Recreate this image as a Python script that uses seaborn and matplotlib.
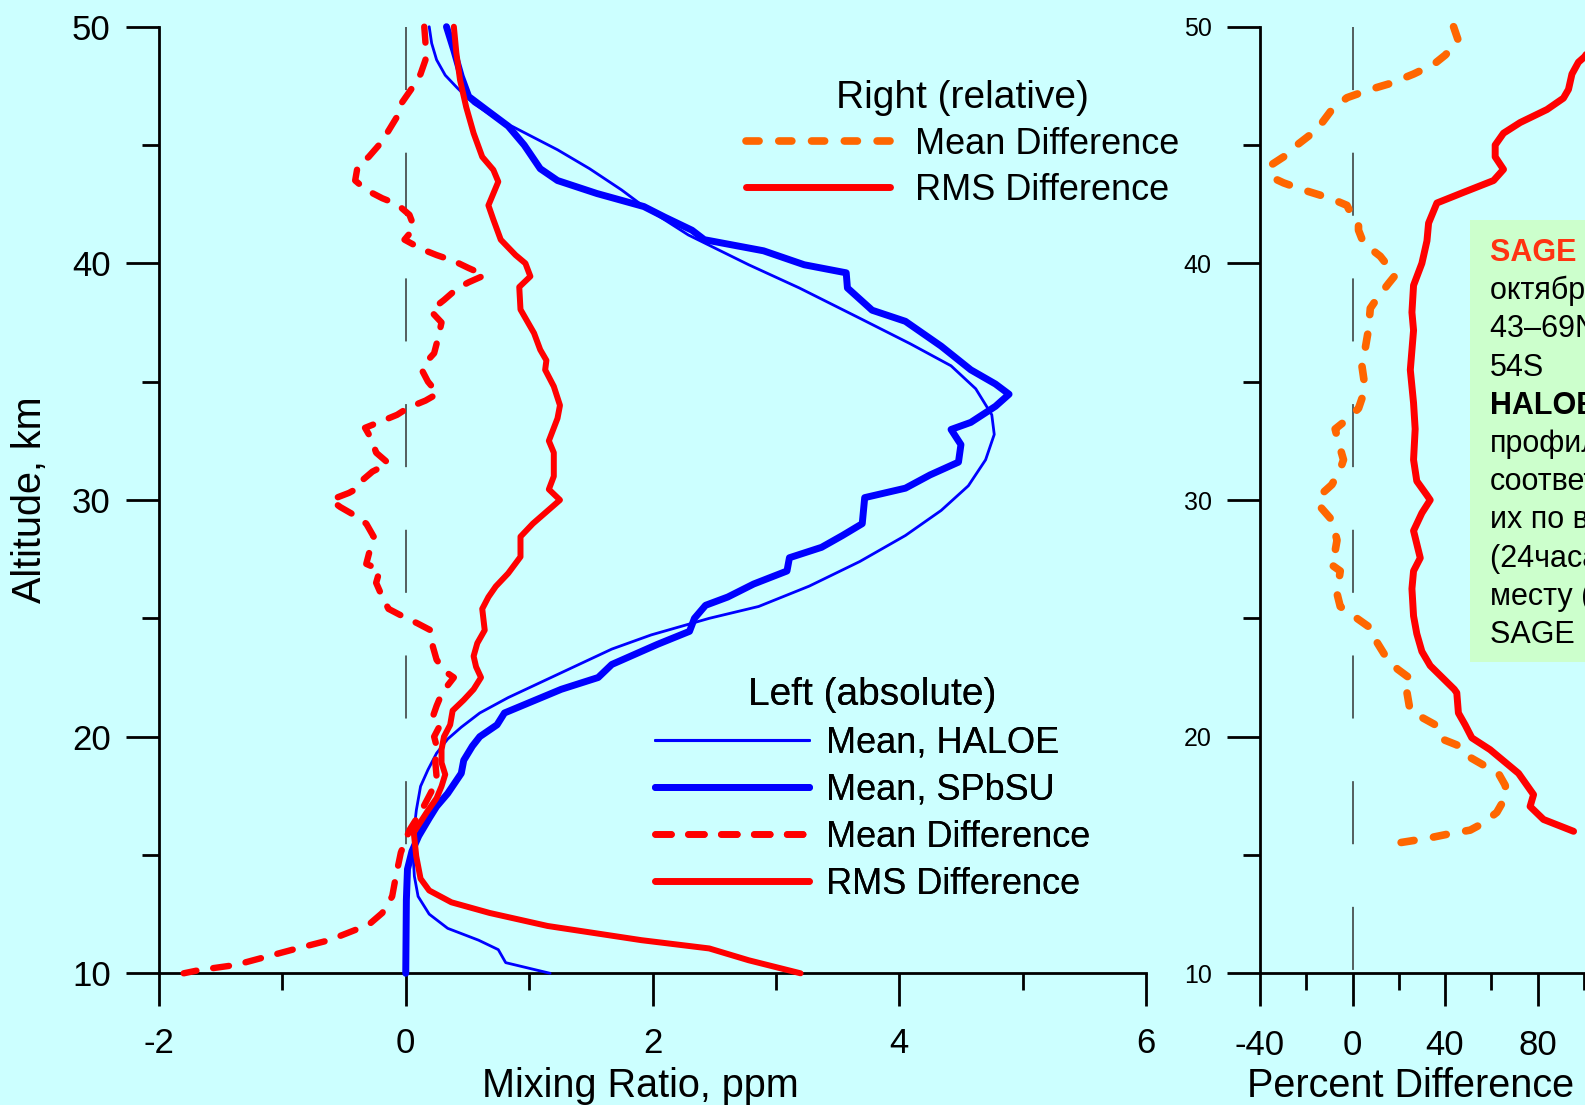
import matplotlib
matplotlib.use("Agg")
import matplotlib.pyplot as plt
import seaborn as sns
from matplotlib.lines import Line2D
from matplotlib.patches import Rectangle
from matplotlib.ticker import MultipleLocator, FixedLocator

# ---------------- data ----------------
# Left panel: absolute values, ppm
haloe_x = [0.19, 0.21, 0.25, 0.32, 0.42, 0.55, 0.71, 0.97, 1.23, 1.49, 1.75, 1.93, 2.29, 2.78,
           3.19, 3.68, 4.09, 4.42, 4.62, 4.75, 4.77, 4.70, 4.56, 4.34, 4.05, 3.68, 3.27, 2.86,
           2.46, 1.99, 1.67, 1.26, 0.83, 0.60, 0.45, 0.34, 0.25, 0.18, 0.12, 0.086, 0.065, 0.06,
           0.07, 0.10, 0.19, 0.34, 0.59, 0.75, 0.81, 1.17]
haloe_alt = [50.0, 49.3, 48.6, 47.95, 47.4, 46.75, 46.2, 45.5, 44.8, 44.0, 43.1, 42.4, 41.2, 39.94,
             38.96, 37.68, 36.6, 35.67, 34.7, 33.6, 32.77, 31.7, 30.6, 29.56, 28.5, 27.4, 26.36, 25.5,
             25.0, 24.3, 23.7, 22.7, 21.65, 21.0, 20.4, 19.9, 19.3, 18.6, 17.9, 16.9, 15.95, 14.95,
             14.1, 13.25, 12.5, 11.9, 11.4, 11.0, 10.45, 10.0]

spbsu_x = [0.33, 0.39, 0.45, 0.51, 0.65, 0.83, 0.96, 1.09, 1.23, 1.55, 1.93, 2.10, 2.32, 2.42,
           2.90, 3.23, 3.57, 3.58, 3.78, 4.05, 4.34, 4.58, 4.78, 4.89, 4.78, 4.58, 4.42, 4.50,
           4.48, 4.25, 4.05, 3.72, 3.70, 3.54, 3.37, 3.11, 3.09, 2.82, 2.61, 2.43, 2.34, 2.30,
           2.04, 1.67, 1.56, 1.26, 0.80, 0.74, 0.60, 0.54, 0.47, 0.45, 0.34, 0.25, 0.19, 0.105,
           0.05, 0.014, 0.005, 0.0]
spbsu_alt = [50.0, 49.0, 47.9, 47.05, 46.5, 45.8, 45.0, 44.0, 43.5, 42.95, 42.4, 41.95, 41.4, 41.0,
             40.53, 39.94, 39.6, 38.96, 38.02, 37.55, 36.5, 35.5, 34.9, 34.47, 33.96, 33.28, 32.98, 32.34,
             31.6, 31.06, 30.5, 30.1, 29.0, 28.5, 28.0, 27.56, 27.0, 26.45, 25.9, 25.55, 25.0, 24.45,
             23.9, 23.05, 22.5, 22.0, 21.0, 20.5, 20.0, 19.6, 19.0, 18.45, 17.6, 17.05, 16.55, 15.8,
             15.15, 14.4, 13.1, 10.0]

mdiff_x = [0.15, 0.16, 0.16, 0.12, 0.05, -0.03, -0.07, -0.14, -0.20, -0.30, -0.39, -0.41, -0.32,
           -0.19, -0.07, 0.03, 0.07, -0.01, 0.13, 0.25, 0.39, 0.51, 0.64, 0.51, 0.42, 0.31, 0.20,
           0.29, 0.26, 0.23, 0.16, 0.13, 0.18, 0.26, 0.16, 0.02, -0.07, -0.21, -0.33, -0.28, -0.24,
           -0.14, -0.27, -0.36, -0.39, -0.46, -0.61, -0.53, -0.43, -0.32, -0.26, -0.29, -0.32, -0.21,
           -0.24, -0.19, -0.14, -0.03, 0.09, 0.20, 0.22, 0.25, 0.32, 0.39, 0.33, 0.29, 0.25, 0.22,
           0.28, 0.23, 0.25, 0.24, 0.25, 0.21, 0.12, 0.03, -0.04, -0.08, -0.11, -0.19, -0.29, -0.40,
           -0.62, -0.88, -1.13, -1.38, -1.67, -1.80]
mdiff_alt = [50.0, 49.3, 48.6, 48.0, 47.4, 46.8, 46.2, 45.6, 45.1, 44.5, 44.1, 43.5, 43.1,
             42.75, 42.5, 42.05, 41.5, 41.0, 40.6, 40.35, 40.1, 39.8, 39.5, 39.2, 38.95, 38.45, 38.0,
             37.5, 36.8, 36.2, 35.8, 35.5, 35.0, 34.5, 34.2, 33.9, 33.6, 33.3, 33.05, 32.6, 32.0,
             31.55, 31.2, 30.8, 30.5, 30.3, 30.0, 29.7, 29.4, 29.0, 28.45, 27.9, 27.3, 27.05,
             26.5, 25.9, 25.4, 25.1, 24.8, 24.5, 23.8, 23.25, 22.75, 22.5, 22.1, 21.8, 21.3, 20.85,
             20.5, 20.0, 19.6, 18.9, 18.3, 17.7, 16.8, 16.05, 15.1, 14.1, 13.25, 12.55, 12.1, 11.85,
             11.4, 11.05, 10.7, 10.35, 10.14, 10.0]

rms_x = [0.39, 0.41, 0.44, 0.49, 0.55, 0.62, 0.71, 0.75, 0.71, 0.67, 0.71, 0.77, 0.89, 0.97,
         1.01, 0.92, 0.93, 1.04, 1.09, 1.14, 1.13, 1.20, 1.25, 1.23, 1.16, 1.20, 1.20, 1.16, 1.25,
         1.14, 1.03, 0.93, 0.93, 0.83, 0.73, 0.67, 0.62, 0.64, 0.58, 0.55, 0.57, 0.61, 0.55, 0.47,
         0.38, 0.36, 0.31, 0.29, 0.29, 0.32, 0.29, 0.25, 0.17, 0.065, 0.085, 0.12, 0.19, 0.37,
         0.68, 1.15, 1.91, 2.46, 2.78, 3.20]
rms_alt = [50.0, 48.9, 47.75, 46.6, 45.5, 44.5, 43.95, 43.45, 42.95, 42.45, 41.85, 41.0, 40.35, 40.0,
           39.45, 39.0, 38.05, 37.05, 36.35, 35.9, 35.5, 34.8, 34.0, 33.45, 32.5, 32.0, 31.0, 30.45, 30.0,
           29.5, 29.0, 28.45, 27.6, 26.9, 26.35, 25.9, 25.4, 24.5, 23.95, 23.4, 22.95, 22.5, 22.0, 21.55,
           21.1, 20.5, 20.0, 19.45, 18.9, 18.4, 17.9, 17.4, 16.8, 15.95, 14.95, 14.0, 13.5, 13.0,
           12.55, 12.0, 11.4, 11.05, 10.55, 10.0]

# Right panel: relative values, percent
rel_mdiff_x = [43.7, 45.8, 40.1, 35.0, 26.4, 16.3, 7.7, -2.4, -8.9, -15.4, -24.0, -29.8, -35.3,
               -34.2, -29.8, -21.2, -9.6, -2.4, -1.0, 2.6, 2.6, 4.8, 12.0, 18.5, 15.6, 10.5, 7.7,
               6.9, 5.5, 4.1, 5.5, 2.6, -2.4, -7.5, -6.1, -3.9, -5.3, -8.9, -14.0, -14.7, -8.9,
               -6.7, -8.2, -9.6, -5.3, -6.7, -5.3, 1.9, 8.4, 10.5, 14.9, 19.5, 25.7, 23.5, 24.9,
               29.3, 35.8, 38.7, 45.1, 49.5, 56.6, 63.1, 66.0, 66.8, 62.4, 56.6, 50.9, 42.2, 32.2, 19.2]
rel_mdiff_alt = [50.0, 49.4, 48.8, 48.4, 48.0, 47.6, 47.35, 47.0, 46.5, 45.65, 45.0, 44.5, 44.15,
                 43.6, 43.4, 43.1, 42.75, 42.45, 42.17, 41.7, 41.4, 40.85, 40.3, 39.5, 39.15, 38.5, 38.1,
                 37.2, 36.4, 35.65, 34.7, 33.87, 33.4, 33.0, 32.45, 31.7, 31.3, 30.65, 30.2, 29.8, 29.15,
                 28.3, 27.45, 27.3, 27.0, 26.05, 25.5, 25.0, 24.55, 24.0, 23.3, 22.85, 22.4, 21.9, 21.1,
                 20.85, 20.5, 19.9, 19.65, 19.2, 18.8, 18.45, 17.95, 17.55, 16.8, 16.35, 16.05, 15.9, 15.7, 15.5]

rel_rms_x = [106.0, 104.0, 100.6, 97.7, 94.9, 93.4, 91.2, 84.1, 72.5, 65.3, 61.7, 61.7, 65.3, 61.0,
             48.0, 36.5, 32.9, 32.2, 30.0, 26.4, 25.7, 26.4, 25.0, 26.4, 27.1, 26.4, 27.8, 32.2,
             33.6, 30.0, 26.4, 29.3, 26.4, 25.7, 26.4, 27.8, 30.0, 33.6, 44.0, 45.1, 45.8, 48.7,
             51.6, 59.5, 71.8, 78.3, 76.8, 82.6, 95.6]
rel_rms_alt = [50.0, 49.4, 48.75, 48.5, 48.0, 47.35, 46.98, 46.5, 45.95, 45.5, 45.0, 44.5, 43.97, 43.5,
               43.0, 42.55, 41.7, 40.95, 40.0, 39.07, 37.93, 37.17, 35.5, 34.1, 33.0, 31.7, 30.8, 30.2,
               30.0, 29.45, 28.7, 27.55, 27.0, 26.25, 25.1, 24.35, 23.6, 23.0, 22.0, 21.85, 21.0, 20.5,
               19.95, 19.45, 18.45, 17.55, 17.05, 16.5, 16.0]

left_xticks = [-2, 0, 2, 4, 6]
right_xticks = [-40, 0, 40, 80]
right_xminor = [-20, 20, 60, 100]
alt_ticks = [10, 20, 30, 40, 50]

legend_right_title = "Right (relative)"
legend_right_labels = ["Mean Difference", "RMS Difference"]
legend_left_title = "Left (absolute)"
legend_left_labels = ["Mean, HALOE", "Mean, SPbSU", "Mean Difference", "RMS Difference"]

note_lines = ["SAGE II", "октябрь 2003 г.", "43–69N и 40–", "54S", "HALOE:", "профили,",
              "соответствующие", "их по времени", "(24часа) и", "месту (500 км)", "SAGE II"]
note_bold = [True, False, False, False, True, False, False, False, False, False, False]
note_colors = ["#FF3311", "black", "black", "black", "black", "black", "black", "black",
               "black", "black", "black"]

# ---------------- style ----------------
sns.set_theme(style="ticks")
plt.rcParams["font.family"] = ["Liberation Sans", "DejaVu Sans"]
plt.rcParams["axes.unicode_minus"] = False
plt.rcParams["lines.scale_dashes"] = False
for key in ("text.color", "axes.labelcolor", "xtick.color", "ytick.color",
            "xtick.labelcolor", "ytick.labelcolor", "axes.edgecolor"):
    plt.rcParams[key] = "black"
plt.rcParams["legend.labelcolor"] = "black"

W, H = 1585, 1105
BG = "#CCFFFF"
BLUE = "#0000FF"
RED = "#FF0000"
ORANGE = "#FF6600"

fig = plt.figure(figsize=(W / 100, H / 100), dpi=100)
fig.patch.set_facecolor(BG)


def fxp(p):
    return p / W


def fyp(p):
    return 1 - p / H


y_top, y_bot = 26.7, 973.3
axL = fig.add_axes([fxp(159), fyp(y_bot), (1146 - 159) / W, (y_bot - y_top) / H])
axR = fig.add_axes([fxp(1260), fyp(y_bot), 462.5 / W, (y_bot - y_top) / H])

for ax in (axL, axR):
    ax.set_facecolor(BG)
    for s in ("top", "right"):
        ax.spines[s].set_visible(False)
    for s in ("left", "bottom"):
        ax.spines[s].set_linewidth(2.0)
        ax.spines[s].set_color("black")
    ax.tick_params(which="major", direction="out", length=23.8, width=2.0, color="black")
    ax.tick_params(which="minor", direction="out", length=12.2, width=2.0, color="black")
    ax.set_ylim(10, 50)
    ax.yaxis.set_major_locator(FixedLocator(alt_ticks))
    ax.yaxis.set_minor_locator(MultipleLocator(5))
    ax.axvline(0, ymin=1, ymax=0, color="#333333", lw=1.1,
               linestyle=(0, (45.4, 45.1)), zorder=1)

axL.set_xlim(-2, 6)
axL.xaxis.set_major_locator(FixedLocator(left_xticks))
axL.xaxis.set_minor_locator(MultipleLocator(1))
axR.set_xlim(-40, 160)
axR.xaxis.set_major_locator(FixedLocator(right_xticks))
axR.xaxis.set_minor_locator(FixedLocator(right_xminor))

axL.tick_params(axis="x", labelsize=25, pad=15, labelcolor="black")
axL.tick_params(axis="y", labelsize=25, pad=11, labelcolor="black")
axR.tick_params(axis="x", labelsize=25, pad=16, labelcolor="black")
axR.tick_params(axis="y", labelsize=18, pad=11, labelcolor="black")


def profile(ax, x, y, color, lw, dash=None, z=3):
    kw = dict(color=color, linewidth=lw, sort=False, estimator=None, ax=ax,
              legend=False, zorder=z, clip_on=False)
    if dash is not None:
        kw.update(linestyle=(0, dash), dash_capstyle="round", dash_joinstyle="round")
    else:
        kw.update(solid_capstyle="round", solid_joinstyle="round")
    sns.lineplot(x=x, y=y, **kw)


DASH_L = (11.5, 12.2)
DASH_R = (9.4, 14.2)

profile(axL, spbsu_x, spbsu_alt, BLUE, 5.0, z=3)
profile(axL, haloe_x, haloe_alt, BLUE, 2.0, z=4)
profile(axL, mdiff_x, mdiff_alt, RED, 4.6, dash=DASH_L, z=5)
profile(axL, rms_x, rms_alt, RED, 4.3, z=6)

profile(axR, rel_mdiff_x, rel_mdiff_alt, ORANGE, 5.5, dash=DASH_R, z=5)
profile(axR, rel_rms_x, rel_rms_alt, RED, 5.0, z=6)

# axis labels
axL.set_xlabel("Mixing Ratio, ppm", fontsize=28.5, color="black")
axL.xaxis.set_label_coords(0.4873, -0.119)
axL.xaxis.label.set_verticalalignment("center")
axL.set_ylabel("Altitude, km", fontsize=28.5, color="black")
axL.yaxis.set_label_coords(-0.1307, 0.5)
axL.yaxis.label.set_verticalalignment("center")
axR.set_xlabel("Percent Difference", fontsize=28.5, color="black")
axR.xaxis.set_label_coords(0.3254, -0.119)
axR.xaxis.label.set_verticalalignment("center")
axR.set_ylabel("")

# legends
hR = [Line2D([], [], color=ORANGE, lw=5.5, linestyle=(0, DASH_R), dash_capstyle="round"),
      Line2D([], [], color=RED, lw=5.0, solid_capstyle="round")]
legR = axL.legend(hR, legend_right_labels, title=legend_right_title, loc="upper left",
                  bbox_to_anchor=(fxp(745.5), fyp(80)), bbox_transform=fig.transFigure,
                  frameon=False, fontsize=26, title_fontsize=28, handlelength=3.99,
                  handletextpad=0.71, labelspacing=0.3, borderpad=0, borderaxespad=0,
                  labelcolor="black")
legR.get_title().set_color("black")
axL.add_artist(legR)

hL = [Line2D([], [], color=BLUE, lw=2.2, solid_capstyle="round"),
      Line2D([], [], color=BLUE, lw=5.0, solid_capstyle="round"),
      Line2D([], [], color=RED, lw=4.8, linestyle=(0, DASH_L), dash_capstyle="round"),
      Line2D([], [], color=RED, lw=4.8, solid_capstyle="round")]
legL = axL.legend(hL, legend_left_labels, title=legend_left_title, loc="upper left",
                  bbox_to_anchor=(fxp(655), fyp(677)), bbox_transform=fig.transFigure,
                  frameon=False, fontsize=26, title_fontsize=28, handlelength=4.27,
                  handletextpad=0.46, labelspacing=0.34, borderpad=0, borderaxespad=0,
                  labelcolor="black")
legL.get_title().set_color("black")
axL.add_artist(legL)

# annotation box (extends past the right edge, as in the original)
fig.add_artist(Rectangle((fxp(1470), fyp(662)), 0.3, (662 - 220) / H,
                         transform=fig.transFigure, facecolor="#CCFFCC",
                         edgecolor="none", zorder=2))
for i, (line, bold, col) in enumerate(zip(note_lines, note_bold, note_colors)):
    fig.text(fxp(1490), fyp(261 + i * 38.2), line, fontsize=22,
             fontweight="bold" if bold else "normal", color=col,
             ha="left", va="baseline", zorder=3)

fig.savefig("out.png", dpi=100, facecolor=BG)
